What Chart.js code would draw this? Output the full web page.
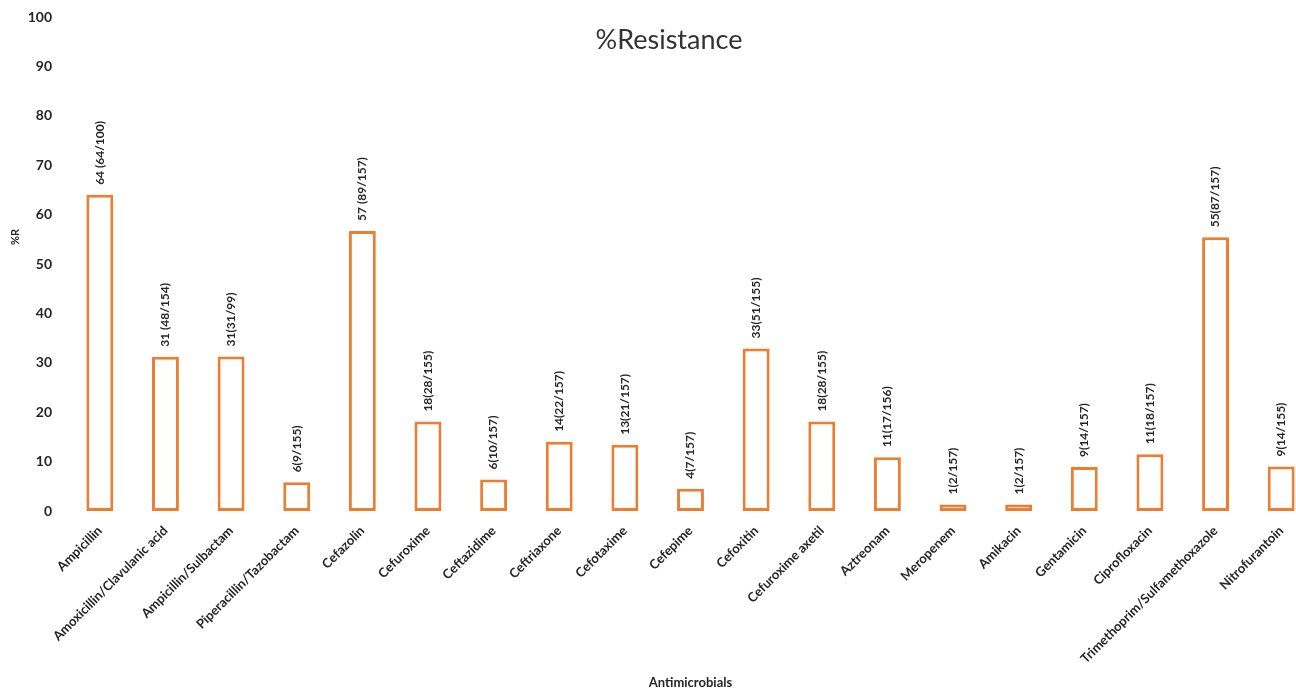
<!DOCTYPE html>
<html>
<head>
<meta charset="utf-8">
<script src="https://cdn.jsdelivr.net/npm/chart.js@4"></script>
<style>
  html, body { margin: 0; padding: 0; background: #fff; overflow: hidden; }
  .wrap { position: relative; width: 1320px; height: 689px; }
</style>
</head>
<body>
<div class="wrap"><canvas id="resChart"></canvas></div>
<script>
// data
const antimicrobials = [
  'Ampicillin', 'Amoxicillin/Clavulanic acid', 'Ampicillin/Sulbactam', 'Piperacillin/Tazobactam',
  'Cefazolin', 'Cefuroxime', 'Ceftazidime', 'Ceftriaxone', 'Cefotaxime', 'Cefepime', 'Cefoxitin',
  'Cefuroxime axetil', 'Aztreonam', 'Meropenem', 'Amikacin', 'Gentamicin', 'Ciprofloxacin',
  'Trimethoprim/Sulfamethoxazole', 'Nitrofurantoin'
];
const pctR = [64, 31.2, 31.3, 5.8, 56.7, 18.1, 6.4, 14.0, 13.4, 4.5, 32.9, 18.1, 10.9, 1.3, 1.3, 8.9, 11.5, 55.4, 9.0];
const barLabels = [
  '64 (64/100)', '31 (48/154)', '31(31/99)', '6(9/155)', '57 (89/157)', '18(28/155)', '6(10/157)',
  '14(22/157)', '13(21/157)', '4(7/157)', '33(51/155)', '18(28/155)', '11(17/156)', '1(2/157)',
  '1(2/157)', '9(14/157)', '11(18/157)', '55(87/157)', '9(14/155)'
];

const orange = '#ED7D31';
const ink = '#262626';

// vertical labels above the bars + titles that sit inside the plot
const extras = {
  id: 'extras',
  afterDatasetsDraw(chart) {
    const ctx = chart.ctx;
    const meta = chart.getDatasetMeta(0);
    ctx.save();
    ctx.fillStyle = ink;
    ctx.font = 'bold 12px Lato';
    ctx.textAlign = 'left';
    ctx.textBaseline = 'middle';
    meta.data.forEach((bar, i) => {
      ctx.save();
      ctx.translate(bar.x, bar.y - 10);
      ctx.rotate(-Math.PI / 2);
      ctx.fillText(barLabels[i], 0, 0);
      ctx.restore();
    });
    // main title
    ctx.font = '27px Lato';
    ctx.fillStyle = '#333';
    ctx.textAlign = 'center';
    ctx.fillText('%Resistance', 669, 40);
    // y title
    ctx.save();
    ctx.translate(15, 237);
    ctx.rotate(-Math.PI / 2);
    ctx.font = 'bold 11px Lato';
    ctx.fillStyle = ink;
    ctx.fillText('%R', 0, 0);
    ctx.restore();
    ctx.restore();
  }
};

new Chart(document.getElementById('resChart'), {
  type: 'bar',
  data: {
    labels: antimicrobials,
    datasets: [{
      data: pctR,
      backgroundColor: '#fff',
      borderColor: orange,
      borderWidth: 3,
      borderSkipped: false,
      categoryPercentage: 1,
      barPercentage: 0.41
    }]
  },
  options: {
    responsive: true, maintainAspectRatio: false, animation: false,
    layout: { padding: { top: 0, right: 6, left: 0, bottom: 0 } },
    plugins: { legend: { display: false }, tooltip: { enabled: false } },
    scales: {
      x: {
        grid: { display: false, drawTicks: false },
        border: { display: false },
        ticks: { color: ink, font: { family: 'Lato', weight: 'bold', size: 13 }, maxRotation: 45, minRotation: 45, padding: 12, autoSkip: false },
        title: { display: true, text: 'Antimicrobials', color: ink, font: { family: 'Lato', weight: 'bold', size: 13 }, padding: { top: 0, bottom: -2 } },
        afterFit: s => { s.height = 178; }
      },
      y: {
        min: 0, max: 100,
        grid: { display: false, drawTicks: false },
        border: { display: false },
        ticks: { stepSize: 10, color: ink, padding: 15, font: { family: 'Lato', weight: 'bold', size: 14 } },
        afterFit: s => { s.width = 67; s.paddingTop = 17; }
      }
    }
  },
  plugins: [extras]
});
</script>
</body>
</html>
